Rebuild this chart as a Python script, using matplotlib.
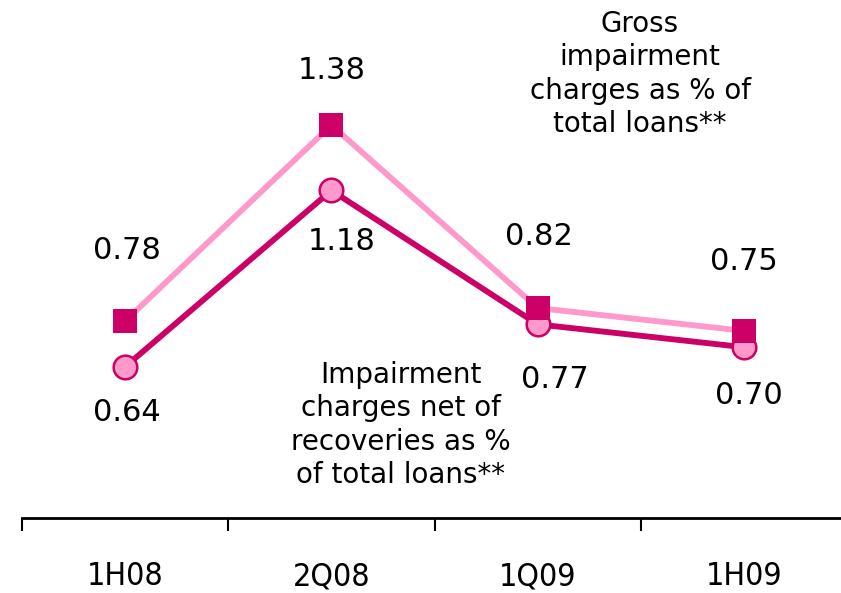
import matplotlib
matplotlib.use("Agg")
import matplotlib.pyplot as plt

periods = ["1H08", "2Q08", "1Q09", "1H09"]
gross = [0.78, 1.38, 0.82, 0.75]
net = [0.64, 1.18, 0.77, 0.70]

dark = "#CC0066"
light = "#FF99CC"

plt.rcParams["font.family"] = ["DejaVu Sans"]

fig = plt.figure(figsize=(8.41, 5.93), dpi=100)
ax = fig.add_axes([22 / 841, 75 / 593, 825 / 841, 518 / 593])
x = list(range(len(periods)))

ax.plot(x, net, color=dark, lw=4.2, marker="o", ms=17, mfc=light,
        mec=dark, mew=1.8, zorder=3, solid_joinstyle="round")
ax.plot(x, gross, color=light, lw=4.2, marker="s", ms=17.5, mfc=dark,
        mec=dark, mew=0, zorder=4, solid_joinstyle="round")

ax.set_xlim(-0.5, 3.5)
ax.set_ylim(0.177, 1.763)

# value labels
gross_off = [(2, 71), (0, 55), (1, 71), (0, 69)]
net_off = [(2, -46), (10, -51), (17, -55), (5, -48)]
for i, v in enumerate(gross):
    ax.annotate(f"{v:.2f}", (i, v), xytext=gross_off[i], textcoords="offset pixels",
                ha="center", va="center", fontsize=22, color="black")
for i, v in enumerate(net):
    ax.annotate(f"{v:.2f}", (i, v), xytext=net_off[i], textcoords="offset pixels",
                ha="center", va="center", fontsize=22, color="black")

# series captions
fig.text(640 / 841, 1 - 74 / 593, "Gross\nimpairment\ncharges as % of\ntotal loans**",
         ha="center", va="center", multialignment="center", fontsize=20,
         linespacing=1.23)
fig.text(401 / 841, 1 - 425 / 593, "Impairment\ncharges net of\nrecoveries as %\nof total loans**",
         ha="center", va="center", multialignment="center", fontsize=20,
         linespacing=1.23)

# axis styling: only the bottom spine, ticks at category boundaries
for s in ["top", "right", "left"]:
    ax.spines[s].set_visible(False)
ax.spines["bottom"].set_linewidth(2)
ax.set_yticks([])
ax.set_xticks([-0.5, 0.5, 1.5, 2.5])
ax.set_xticklabels([])
ax.tick_params(axis="x", direction="out", length=9, width=1.5)
ax.set_xticks(x, minor=True)
ax.set_xticklabels(periods, minor=True, fontsize=23, fontstretch="condensed")
ax.tick_params(axis="x", which="minor", length=0, pad=31)

fig.savefig("out.png", dpi=100)
